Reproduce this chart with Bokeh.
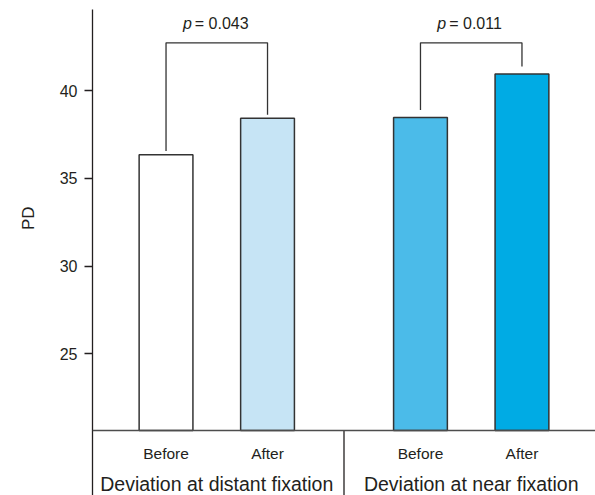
from bokeh.plotting import figure
from bokeh.models import FactorRange, Range1d, LinearAxis, FixedTicker, Span, ColumnDataSource, Title
from bokeh.core.properties import value
from bokeh.embed import file_html
from bokeh.resources import INLINE

# ---- data ----
groups = ["Deviation at distant fixation", "Deviation at near fixation"]
conditions = ["Before", "After"]
values = [36.35, 38.42, 38.47, 40.95]
bar_colors = ["#ffffff", "#c6e4f5", "#4bbbe9", "#00abe4"]
p_values = ["0.043", "0.011"]
y_ticks = [25, 30, 35, 40]
y_label = "PD"

# ---- layout constants ----
BASE = 20.63          # x-axis baseline (bars start here)
Y_MIN, Y_MAX = 16.926, 44.62
BRACKET_TOP = 42.72
LEG_GAP = [0.2, 0.42]
P_Y = 43.83
TICK_Y = 19.32
GROUP_Y = 17.58
GROUP_PAD = 0.507
FONT = "Liberation Sans"
INK = "#231f20"

factors = [(g, c) for g in groups for c in conditions]

x_range = FactorRange(*factors, group_padding=GROUP_PAD, factor_padding=0.0,
                      range_padding=0.2245, range_padding_units="absolute")

p = figure(x_range=x_range, y_range=Range1d(Y_MIN, Y_MAX),
           width=595, height=495, output_backend="svg", toolbar_location=None,
           x_axis_type=None, y_axis_type=None,
           min_border_left=92, min_border_right=0, min_border_top=9, min_border_bottom=0)
p.outline_line_color = None
p.background_fill_color = "white"
p.border_fill_color = "white"

yaxis = LinearAxis(ticker=FixedTicker(ticks=y_ticks))
yaxis.axis_line_color = INK
yaxis.axis_line_width = 1.3
yaxis.major_tick_line_color = INK
yaxis.major_tick_line_width = 1.3
yaxis.major_tick_out = 8
yaxis.major_tick_in = 0
yaxis.minor_tick_out = 0
yaxis.minor_tick_in = 0
yaxis.major_label_standoff = 7
yaxis.major_label_text_font = FONT
yaxis.major_label_text_font_size = "16px"
yaxis.major_label_text_color = INK
p.add_layout(yaxis, "left")

# y-axis title (placed as a side title so it can sit above the frame's centre)
ytitle = Title(text=y_label, align="right", offset=197, vertical_align="middle",
               standoff=35, text_font=FONT, text_font_size="17px",
               text_font_style="normal", text_color=INK)
p.add_layout(ytitle, "left")

src = ColumnDataSource(dict(x=factors, top=values, color=bar_colors))
p.vbar(x="x", top="top", bottom=BASE, width=0.53, source=src,
       fill_color="color", line_color="#333333", line_width=1.5)

# baseline (x axis line)
p.add_layout(Span(location=BASE, dimension="width", line_color="#4d4d4d", line_width=1.5))

# group separator below baseline
sep_x = [(groups[0], conditions[1], 0.5 + GROUP_PAD / 2)]
p.segment(x0=sep_x, y0=[BASE], x1=sep_x, y1=[Y_MIN], line_color=INK, line_width=1.3)

# significance brackets
xs, ys = [], []
for i, g in enumerate(groups):
    vb, va = values[2 * i], values[2 * i + 1]
    xs.append([(g, conditions[0]), (g, conditions[0]), (g, conditions[1]), (g, conditions[1])])
    ys.append([vb + LEG_GAP[i], BRACKET_TOP, BRACKET_TOP, va + LEG_GAP[i]])
p.multi_line(xs=xs, ys=ys, line_color="#333333", line_width=1.3)

p.text(x=groups, y=[P_Y] * len(groups), text=["p"] * len(groups),
       text_font=value(FONT), text_font_size=value("16px"), text_font_style="italic",
       text_align="right", text_baseline="alphabetic", x_offset=-25, text_color=INK)
p.text(x=groups, y=[P_Y] * len(groups), text=["= " + v for v in p_values],
       text_font=value(FONT), text_font_size=value("16px"),
       text_align="left", text_baseline="alphabetic", x_offset=-22, text_color=INK)

# category labels
p.text(x=factors, y=[TICK_Y] * len(factors), text=[f[1] for f in factors],
       text_font=value(FONT), text_font_size=value("15.5px"),
       text_align="center", text_baseline="alphabetic", text_color=INK)
p.text(x=groups, y=[GROUP_Y] * len(groups), text=groups,
       text_font=value(FONT), text_font_size=value("19.5px"),
       text_align="center", text_baseline="alphabetic", text_color=INK)

open("out.html", "w").write(file_html(p, INLINE))
